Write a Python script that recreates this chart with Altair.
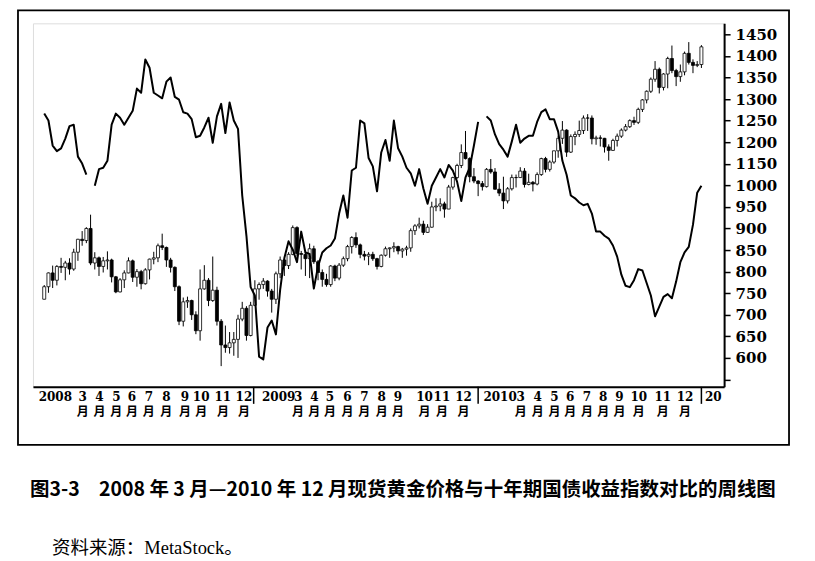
import json
import pandas as pd
import altair as alt

# ---------------- data ----------------
week_start = "2008-01-04"
n_weeks = 157
dates = pd.date_range(week_start, periods=n_weeks, freq="7D").strftime("%Y-%m-%d").tolist()

# weekly spot gold (USD)
gold_open = [836,865,897,880,912,910,920,906,945,975,972,1000,920,932,912,925,927,888,853,881,897,925,887,900,872,904,929,932,960,956,927,910,865,785,830,833,800,763,860,880,833,857,785,730,724,735,743,790,815,752,822,860,
             870,878,855,836,895,927,914,940,1002,942,940,930,953,923,898,882,870,913,885,915,930,958,979,962,940,936,940,930,912,938,953,955,958,948,952,955,995,1006,1010,991,1003,1050,1052,1057,1045,1096,1118,1146,1176,1162,1120,1110,
             1104,1097,1137,1131,1091,1082,1064,1092,1118,1118,1133,1102,1107,1103,1125,1162,1137,1154,1180,1209,1228,1177,1213,1218,1227,1256,1256,1208,1210,1209,1189,1181,1204,1214,1228,1236,1250,1246,1276,1298,1318,1346,1369,1327,1358,1394,1366,1352,1363,1406,1385,1378,1380]
gold_close = [865,897,880,912,910,920,906,945,975,972,1000,920,932,912,925,927,888,853,881,897,925,887,900,872,904,929,932,960,956,927,910,865,785,830,833,800,763,860,880,833,857,785,730,724,735,743,790,815,752,822,860,870,
              878,855,836,895,927,914,940,1002,942,940,930,953,923,898,882,870,913,885,915,930,958,979,962,940,936,940,930,912,938,953,955,958,948,952,955,995,1006,1010,991,1003,1050,1052,1057,1045,1096,1118,1146,1176,1162,1120,1110,1104,
              1097,1137,1131,1091,1082,1064,1092,1118,1118,1133,1102,1107,1103,1125,1162,1137,1154,1180,1209,1228,1177,1213,1218,1227,1256,1256,1208,1210,1209,1189,1181,1204,1214,1228,1236,1250,1246,1276,1298,1318,1346,1369,1327,1358,1394,1366,1352,1363,1406,1385,1378,1380,1421]
gold_high = [869,898,914,915,932,925,931,953,976,994,1003,1032,945,935,934,947,930,890,885,903,933,928,906,904,908,930,946,965,988,958,932,912,868,840,842,835,808,905,915,885,935,865,790,775,760,760,800,830,820,830,880,875,
             885,880,860,900,935,930,945,1007,1005,948,947,965,960,927,905,895,915,916,920,935,962,982,991,965,948,945,946,932,940,958,956,968,960,955,960,1000,1010,1025,1018,1010,1062,1070,1070,1062,1101,1120,1150,1195,1226,1165,1140,1112,
             1110,1140,1161,1140,1105,1120,1096,1125,1125,1142,1140,1127,1110,1130,1164,1166,1158,1180,1215,1249,1230,1218,1225,1250,1262,1265,1262,1215,1216,1210,1195,1208,1220,1232,1242,1253,1259,1280,1300,1320,1350,1388,1373,1360,1398,1424,1370,1380,1410,1432,1392,1388,1425]
gold_low = [836,851,862,868,897,880,893,902,925,960,966,915,905,890,898,905,875,850,852,862,896,876,865,859,870,882,917,922,950,911,898,855,776,773,816,788,755,740,858,820,830,775,681,712,710,705,700,785,740,750,820,835,
            860,842,805,825,885,890,906,938,935,905,890,885,918,880,865,865,865,878,880,911,924,942,955,931,926,915,925,905,910,935,932,945,940,932,937,946,985,1000,985,990,1002,1040,1040,1025,1045,1090,1115,1140,1160,1107,1105,1075,
            1088,1095,1127,1090,1075,1045,1058,1088,1095,1118,1095,1100,1086,1100,1122,1130,1132,1150,1164,1196,1166,1175,1193,1212,1219,1226,1195,1194,1190,1176,1157,1180,1190,1210,1225,1233,1240,1242,1270,1290,1314,1340,1313,1320,1325,1360,1330,1340,1355,1380,1360,1374,1372]

# weekly ten-year treasury yield index (%), None = no data
bond_yield = [3.85,3.80,3.62,3.58,3.60,3.67,3.76,3.77,3.54,3.49,3.41,None,3.33,3.45,3.46,3.51,3.77,3.85,3.82,3.77,
              3.82,3.87,4.03,4.00,4.24,4.18,4.00,3.98,3.96,4.08,4.11,3.97,3.95,3.86,3.85,3.81,3.68,3.69,3.75,3.82,
              3.64,3.83,3.92,3.71,3.93,3.80,3.74,3.26,2.97,2.60,2.54,2.10,2.08,2.31,2.36,2.26,2.58,2.81,2.93,2.87,
              2.78,3.00,2.85,2.84,2.59,2.75,2.85,2.88,2.90,2.95,3.13,3.26,3.10,3.44,3.46,3.80,
              3.78,3.53,3.47,3.29,3.57,3.66,3.51,3.80,3.60,3.54,3.46,3.42,3.33,3.45,3.31,3.20,3.33,3.39,3.45,3.39,
              3.48,3.44,3.36,3.22,3.39,3.46,3.62,3.79,None,3.83,3.80,3.70,3.63,3.59,3.54,3.65,3.77,3.64,3.67,3.69,
              3.69,3.79,3.86,3.88,3.81,3.81,3.72,3.51,3.41,3.26,3.24,3.21,3.19,3.20,3.13,3.00,3.00,2.97,2.95,2.90,
              2.82,2.69,2.61,2.60,2.65,2.73,2.72,2.63,2.54,2.39,2.46,2.53,2.55,2.52,2.64,2.78,2.85,2.89,3.05,3.28,3.33]

# x-axis labels
x_year_label_dates = ["2007-12-25", "2008-12-30", "2010-01-02", "2011-01-05"]
x_year_labels = ["2008", "2009", "2010", "20"]
x_month_label_dates = ["2008-03-07","2008-04-04","2008-05-02","2008-05-28","2008-06-25","2008-07-24","2008-08-24","2008-09-20","2008-10-26","2008-11-30",
                       "2009-02-28","2009-03-27","2009-04-22","2009-05-21","2009-06-18","2009-07-17","2009-08-13","2009-09-26","2009-10-25","2009-11-30",
                       "2010-03-05","2010-04-02","2010-04-30","2010-05-26","2010-06-23","2010-07-20","2010-08-16","2010-09-17","2010-10-27","2010-12-03"]
x_month_labels = ["3","4","5","6","7","8","9","10","11","12"] * 3
year_sep_dates = ["2008-12-17", "2009-12-25", "2010-12-31"]

# right axis (gold) ticks and printed labels
gold_tick_values = [650,700,750,800,850,900,950,1000,1050,1100,1150,1200,1250,1300,1350,1400,1450]
gold_tick_labels = ["","600","650","700","750","800","850","900","950","1000","1150","1200","1250","1300","1350","1400","1450"]

caption = "图3-3\u2002\u20022008 年 3 月—2010 年 12 月现货黄金价格与十年期国债收益指数对比的周线图"
source = "资料来源：MetaStock。"

# ---------------- build ----------------
def ms(d):
    return int(pd.Timestamp(d, tz="UTC").value // 10**6)

gold_df = pd.DataFrame({"date": dates, "open": gold_open, "high": gold_high,
                        "low": gold_low, "close": gold_close})

seg, s = [], 0
for v in bond_yield:
    if v is None:
        s += 1
    seg.append(s)
line_df = pd.DataFrame({"date": dates, "yld": bond_yield, "seg": seg}).dropna()

sep_df = pd.DataFrame({"date": year_sep_dates})

x_tick_dates = x_year_label_dates + x_month_label_dates
x_tick_ms = [ms(d) for d in x_tick_dates]
x_tick_text = x_year_labels + [[m, "月"] for m in x_month_labels]
year_ms = [ms(d) for d in x_year_label_dates]

x_label_expr = "{}[indexof({}, time(datum.value))]".format(
    json.dumps(x_tick_text, ensure_ascii=False), json.dumps(x_tick_ms))
year_test = "indexof({}, time(datum.value)) >= 0".format(json.dumps(year_ms))

xscale = alt.Scale(domain=[alt.DateTime(year=2007, month=12, date=24, hours=14, utc=True),
                           alt.DateTime(year=2011, month=1, date=29, hours=10, utc=True)],
                   nice=False)
xaxis = alt.Axis(values=x_tick_ms, labelExpr=x_label_expr,
                 labelAlign={"condition": {"test": year_test, "value": "left"}, "value": "center"},
                 ticks=False, tickSize=0, domainWidth=2, domainColor="black",
                 labelFont="DejaVu Serif, Noto Sans CJK SC", labelFontSize=12, labelFontWeight="bold",
                 labelColor="black", labelBaseline="top", labelLineHeight=15, labelPadding=5,
                 labelOverlap=False, labelFlush=False, labelBound=False, grid=False, title=None)
xenc = alt.X("date:T", scale=xscale, axis=xaxis)

gold_label_expr = "{}[indexof({}, datum.value)]".format(
    json.dumps(gold_tick_labels), json.dumps(gold_tick_values))
gold_axis = alt.Axis(orient="right", values=gold_tick_values, labelExpr=gold_label_expr,
                     tickSize=6, tickWidth=1.5, tickColor="black", domainWidth=2, domainColor="black",
                     labelFont="DejaVu Serif", labelFontSize=15, labelFontWeight="bold",
                     labelColor="black", labelPadding=5, labelBaseline="middle",
                     labelOverlap=False, labelFlush=False, labelBound=False, grid=False, title=None)
gold_scale = alt.Scale(domain=[632.9, 1475.5], nice=False, zero=False)

gold_base = alt.Chart(gold_df)
wicks = gold_base.mark_rule(color="black", strokeWidth=1).encode(
    x=xenc, y=alt.Y("low:Q", scale=gold_scale, axis=gold_axis), y2="high:Q")
bodies = gold_base.mark_bar(size=3, stroke="black", strokeWidth=0.8).encode(
    x=xenc, y=alt.Y("open:Q", scale=gold_scale, axis=gold_axis), y2="close:Q",
    fill=alt.condition("datum.close >= datum.open", alt.value("white"), alt.value("black")))
gold = alt.layer(wicks, bodies)

line = alt.Chart(line_df).mark_line(color="black", strokeWidth=2, strokeJoin="round").encode(
    x=xenc,
    y=alt.Y("yld:Q", scale=alt.Scale(domain=[1.882, 4.50], nice=False, zero=False), axis=None),
    detail="seg:N")

seps = alt.Chart(sep_df).mark_rule(color="black", strokeWidth=1.5).encode(
    x=xenc, y=alt.value(364), y2=alt.value(381))

one = pd.DataFrame({"a": [0]})
frame = alt.Chart(one).mark_rect(fillOpacity=0, stroke="black", strokeWidth=1.8).encode(
    x=alt.value(-15), x2=alt.value(757), y=alt.value(-13), y2=alt.value(422))

cap = alt.Chart(pd.DataFrame({"t": [caption]})).mark_text(
    align="left", baseline="middle", font="Noto Sans CJK SC", fontSize=19.5,
    fontWeight="bold", color="black").encode(text="t:N", x=alt.value(-3), y=alt.value(467))
src = alt.Chart(pd.DataFrame({"t": [source]})).mark_text(
    align="left", baseline="middle", font="Liberation Serif, Noto Sans CJK SC", fontSize=18.5,
    color="black").encode(text="t:N", x=alt.value(19), y=alt.value(525))

chart = alt.layer(frame, gold, line, seps, cap, src).resolve_scale(y="independent").properties(
    width=692, height=364,
    autosize=alt.AutoSizeParams(type="none"),
    padding={"left": 25, "top": 15, "right": 83, "bottom": 174},
).configure_view(stroke=None).configure(background="white")

chart.save("out.html", embed_options={"renderer": "svg", "actions": False})
